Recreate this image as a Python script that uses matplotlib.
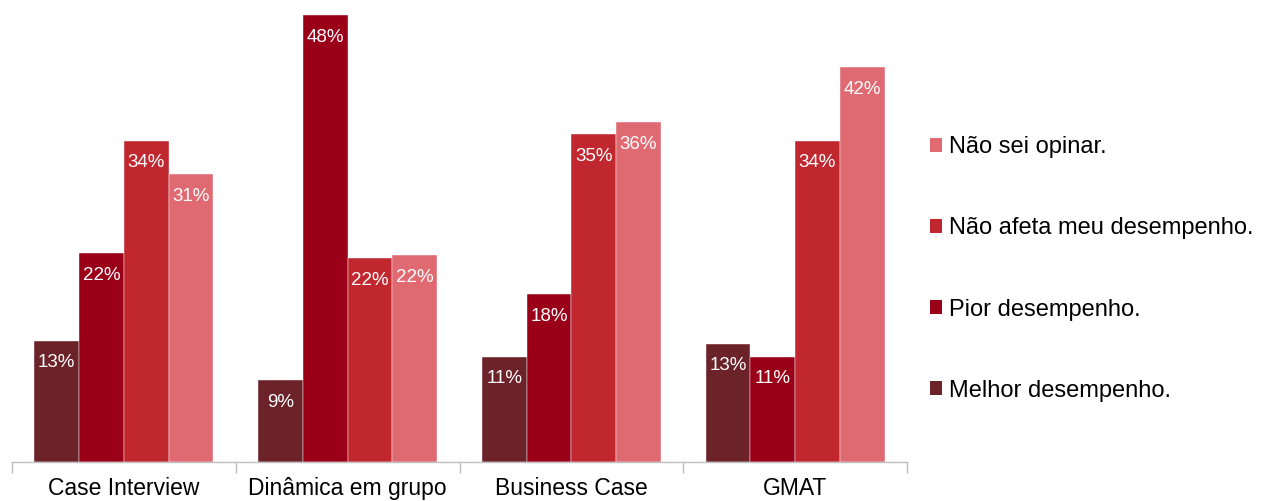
import matplotlib
matplotlib.use("Agg")
import matplotlib.pyplot as plt
from matplotlib.patches import Patch
import numpy as np

plt.rcParams['font.family'] = ['Liberation Sans', 'DejaVu Sans']

categories = ["Case Interview", "Dinâmica em grupo", "Business Case", "GMAT"]
series_names = ["Melhor desempenho.", "Pior desempenho.", "Não afeta meu desempenho.", "Não sei opinar."]
melhor = [13.0, 8.8, 11.3, 12.7]
pior = [22.4, 48.0, 18.0, 11.3]
nao_afeta = [34.5, 21.9, 35.2, 34.5]
nao_sei = [30.9, 22.2, 36.5, 42.4]
labels_melhor = ["13%", "9%", "11%", "13%"]
labels_pior = ["22%", "48%", "18%", "11%"]
labels_nao_afeta = ["34%", "22%", "35%", "34%"]
labels_nao_sei = ["31%", "22%", "36%", "42%"]

series = [melhor, pior, nao_afeta, nao_sei]
series_labels = [labels_melhor, labels_pior, labels_nao_afeta, labels_nao_sei]
colors = ["#6B2228", "#9B0019", "#C1272F", "#E06A72"]

fig = plt.figure(figsize=(12.62, 5.01), dpi=100)
ax = fig.add_axes([12/1262, 1 - 462/501, (907-12)/1262, 462/501])

x = np.arange(len(categories))
w = 0.2
for i, (vals, labs, c) in enumerate(zip(series, series_labels, colors)):
    pos = x + (i - 1.5) * w
    bars = ax.bar(pos, vals, width=w, color=c, edgecolor="#ffffff", linewidth=0.3, zorder=2)
    for b, lab in zip(bars, labs):
        ax.annotate(lab, (b.get_x() + b.get_width()/2, b.get_height()),
                    xytext=(0, -22), textcoords="offset pixels",
                    ha="center", va="center", color="white", fontsize=13.5)

ax.set_xlim(-0.5, len(categories) - 0.5)
ax.set_ylim(0, 462/9.31)
for s in ["top", "right", "left"]:
    ax.spines[s].set_visible(False)
ax.spines["bottom"].set_color("#BFBFBF")
ax.spines["bottom"].set_linewidth(1.0)
ax.set_yticks([])
ax.set_xticks(np.arange(len(categories) + 1) - 0.5, minor=False)
ax.set_xticklabels([])
ax.tick_params(axis="x", which="major", length=8, color="#BFBFBF", width=1.0)
ax.set_xticks(x, minor=True)
ax.set_xticklabels(categories, minor=True, fontsize=16.5)
ax.tick_params(axis="x", which="minor", length=0, pad=11)

handles = [Patch(facecolor=c, edgecolor="none") for c in colors]
fig.legend(handles[::-1], series_names[::-1], loc="center left",
           bbox_to_anchor=(930/1262, 1 - 269/501), frameon=False,
           fontsize=17, labelspacing=2.5, handlelength=0.5, handleheight=0.5,
           handletextpad=0.3, borderpad=0, borderaxespad=0)

fig.savefig("out.png", dpi=100)
